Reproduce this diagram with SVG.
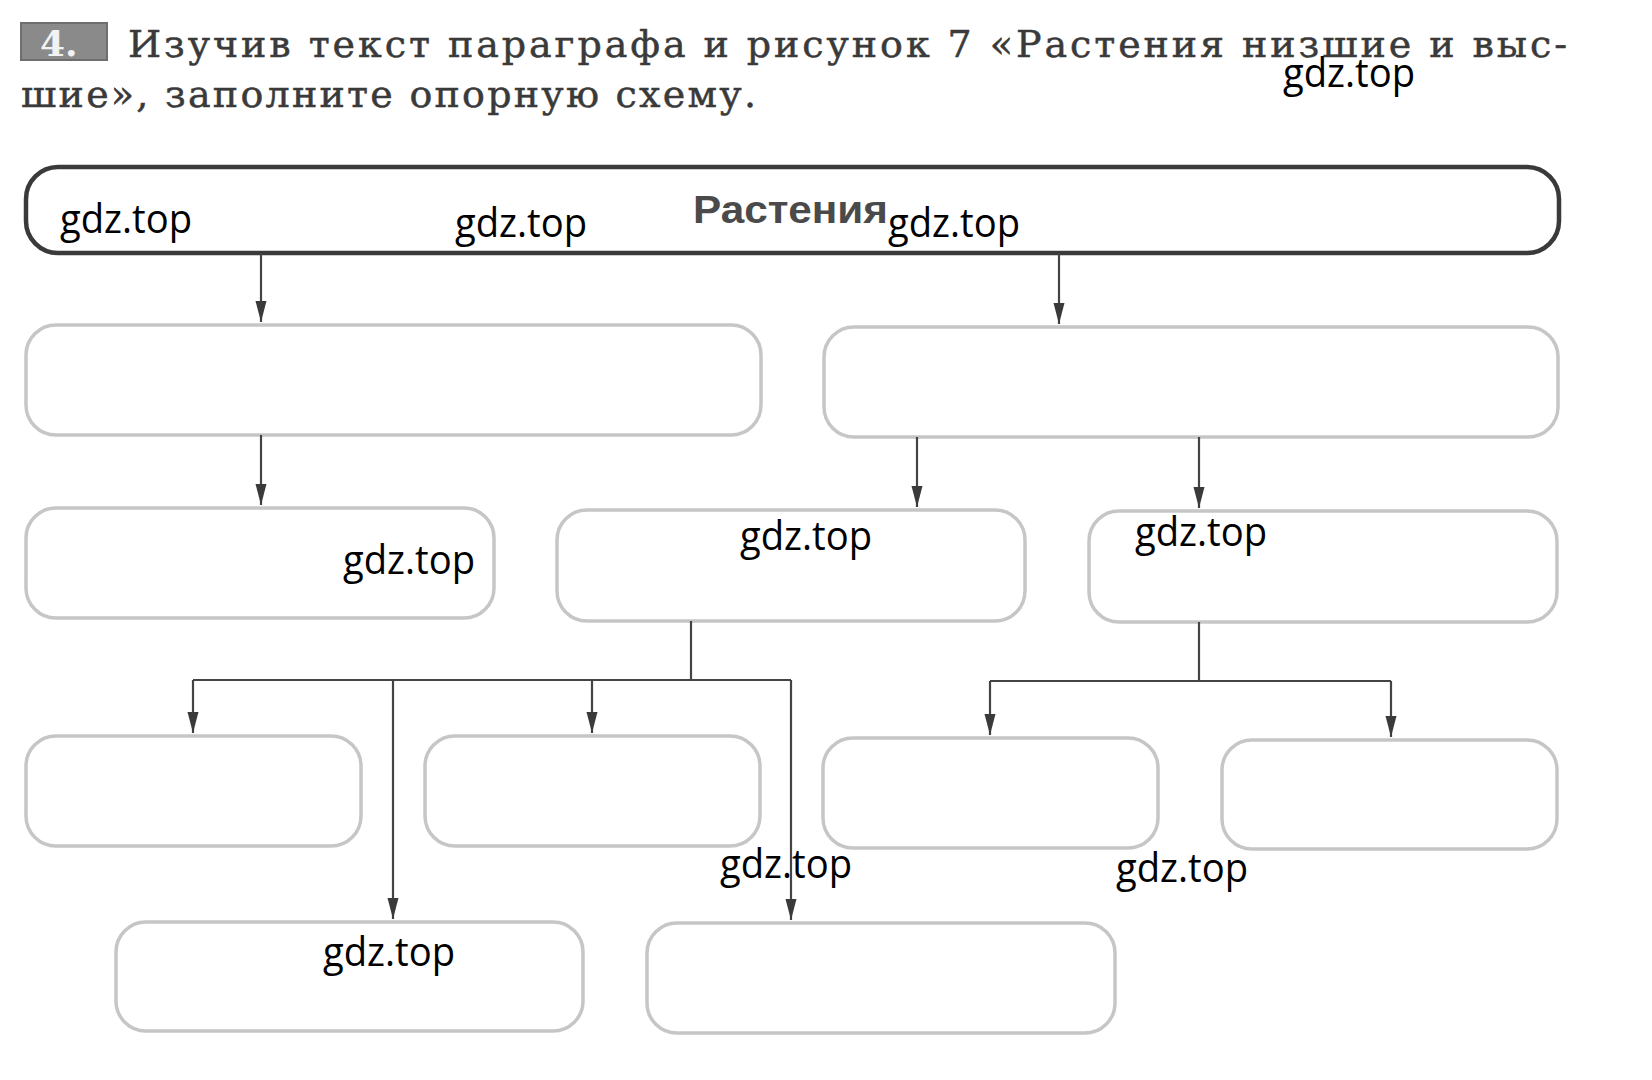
<svg xmlns="http://www.w3.org/2000/svg" width="1652" height="1080" viewBox="0 0 1652 1080">
<defs>
<style>
.hdr{font-family:"DejaVu Serif","Liberation Serif",serif;font-size:38px;fill:#3a3a3a;stroke:#3a3a3a;stroke-width:0.5}
.box{fill:#fff;stroke:#c6c6c6;stroke-width:3.5}
.top{fill:#fff;stroke:#3a3a3a;stroke-width:4.5}
.conn{fill:none;stroke:#444;stroke-width:2.2}
.wm{font-family:"Open Sans","Noto Sans",sans-serif;font-size:40px;fill:#000}
.title{font-family:"Liberation Sans",Arial,sans-serif;font-weight:bold;font-size:38px;fill:#4a4a4a}
</style>
<marker id="arr" markerUnits="userSpaceOnUse" markerWidth="22" markerHeight="12" refX="21" refY="6" orient="auto">
<path d="M0,0.5 L21,6 L0,11.5 Z" fill="#3a3a3a"/>
</marker>
</defs>
<rect width="1652" height="1080" fill="#fff"/>

<g id="header">
<rect x="21" y="23" width="86" height="37" fill="#8a8a8a" stroke="#6e6e6e" stroke-width="2"/>
<text x="40" y="56" font-family="DejaVu Serif,Liberation Serif,serif" font-weight="bold" font-size="36" fill="#f2f2f2">4.</text>
<text class="hdr" x="128" y="57" textLength="1439" lengthAdjust="spacing">Изучив текст параграфа и рисунок 7 «Растения низшие и выс-</text>
<text class="hdr" x="21" y="107" textLength="735" lengthAdjust="spacing">шие», заполните опорную схему.</text>
</g>

<g id="node-plants">
<rect class="top" x="26" y="167" width="1533" height="86" rx="32"/>
<text class="title" x="693" y="223" textLength="195" lengthAdjust="spacingAndGlyphs">Растения</text>
</g>
<g id="node-l1-left"><rect class="box" x="26" y="325" width="735" height="110" rx="30"/></g>
<g id="node-l1-right"><rect class="box" x="824" y="327" width="734" height="110" rx="30"/></g>
<g id="node-l2-a"><rect class="box" x="26" y="508" width="468" height="110" rx="30"/></g>
<g id="node-l2-b"><rect class="box" x="557" y="510" width="468" height="111" rx="30"/></g>
<g id="node-l2-c"><rect class="box" x="1089" y="511" width="468" height="111" rx="30"/></g>
<g id="node-l3-d"><rect class="box" x="26" y="736" width="335" height="110" rx="30"/></g>
<g id="node-l3-e"><rect class="box" x="425" y="736" width="335" height="110" rx="30"/></g>
<g id="node-l3-f"><rect class="box" x="823" y="738" width="335" height="110" rx="30"/></g>
<g id="node-l3-g"><rect class="box" x="1222" y="740" width="335" height="109" rx="30"/></g>
<g id="node-l4-h"><rect class="box" x="116" y="922" width="467" height="109" rx="30"/></g>
<g id="node-l4-i"><rect class="box" x="647" y="923" width="468" height="110" rx="30"/></g>

<g id="connectors">
<path class="conn" d="M261,253 V322" marker-end="url(#arr)"/>
<path class="conn" d="M1059,253 V324" marker-end="url(#arr)"/>
<path class="conn" d="M261,435 V505" marker-end="url(#arr)"/>
<path class="conn" d="M917,437 V507" marker-end="url(#arr)"/>
<path class="conn" d="M1199,437 V508" marker-end="url(#arr)"/>
<path class="conn" d="M691,621 V680"/>
<path class="conn" d="M193,680 H791"/>
<path class="conn" d="M193,680 V733" marker-end="url(#arr)"/>
<path class="conn" d="M592,680 V733" marker-end="url(#arr)"/>
<path class="conn" d="M393,680 V919" marker-end="url(#arr)"/>
<path class="conn" d="M791,680 V920" marker-end="url(#arr)"/>
<path class="conn" d="M1199,622 V681"/>
<path class="conn" d="M990,681 H1391"/>
<path class="conn" d="M990,681 V735" marker-end="url(#arr)"/>
<path class="conn" d="M1391,681 V737" marker-end="url(#arr)"/>
</g>

<g id="watermarks">
<text class="wm" x="1283" y="87" textLength="132" lengthAdjust="spacingAndGlyphs">gdz.top</text>
<text class="wm" x="60" y="233" textLength="132" lengthAdjust="spacingAndGlyphs">gdz.top</text>
<text class="wm" x="455" y="237" textLength="132" lengthAdjust="spacingAndGlyphs">gdz.top</text>
<text class="wm" x="888" y="237" textLength="132" lengthAdjust="spacingAndGlyphs">gdz.top</text>
<text class="wm" x="343" y="574" textLength="132" lengthAdjust="spacingAndGlyphs">gdz.top</text>
<text class="wm" x="740" y="550" textLength="132" lengthAdjust="spacingAndGlyphs">gdz.top</text>
<text class="wm" x="1135" y="546" textLength="132" lengthAdjust="spacingAndGlyphs">gdz.top</text>
<text class="wm" x="720" y="878" textLength="132" lengthAdjust="spacingAndGlyphs">gdz.top</text>
<text class="wm" x="1116" y="882" textLength="132" lengthAdjust="spacingAndGlyphs">gdz.top</text>
<text class="wm" x="323" y="966" textLength="132" lengthAdjust="spacingAndGlyphs">gdz.top</text>
</g>
</svg>
